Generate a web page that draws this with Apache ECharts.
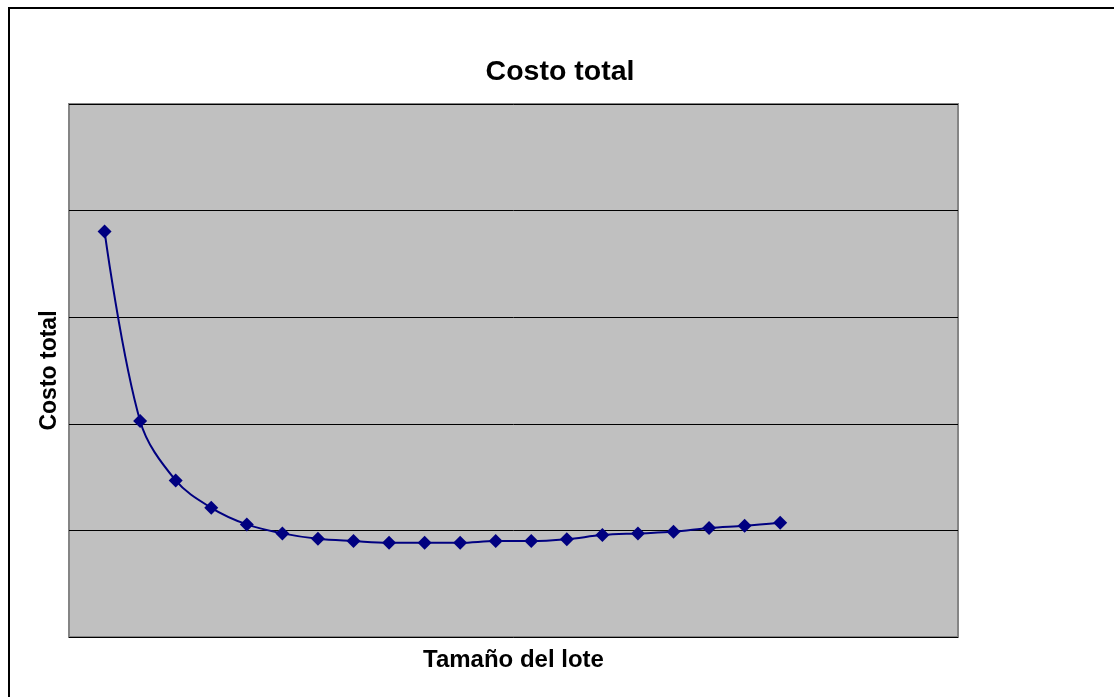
<!DOCTYPE html>
<html>
<head>
<meta charset="utf-8">
<title>Costo total</title>
<script src="https://cdn.jsdelivr.net/npm/echarts@6/dist/echarts.min.js"></script>
<style>
  html, body { margin: 0; padding: 0; background: #ffffff; }
  #chart { width: 1114px; height: 697px; }
</style>
</head>
<body>
<div id="chart"></div>
<script>
// Lot sizes (x) and the total cost for each lot size (y)
const lotSizes = [1, 2, 3, 4, 5, 6, 7, 8, 9, 10, 11, 12, 13, 14, 15, 16, 17, 18, 19, 20];
const totalCost = [3805, 2027, 1469, 1212, 1056, 972, 921, 900, 884, 884,
                   884, 900, 900, 918, 956, 972, 987, 1022, 1043, 1071];

const chartTitle = 'Costo total';
const xAxisName = 'Tamaño del lote';
const yAxisName = 'Costo total';

const points = lotSizes.map((x, i) => [x, totalCost[i]]);

const chart = echarts.init(document.getElementById('chart'), null, { renderer: 'canvas' });

chart.setOption({
  backgroundColor: '#ffffff',
  animation: false,
  title: {
    text: chartTitle,
    left: 555,
    top: 53,
    textAlign: 'center',
    textStyle: {
      fontFamily: 'Liberation Sans, Arial, sans-serif',
      fontWeight: 'bold',
      fontSize: 28.5,
      color: '#000000'
    }
  },
  graphic: [
    {
      // outer frame of the chart
      type: 'rect',
      shape: { x: 9, y: 8, width: 1300, height: 900 },
      style: { fill: 'none', stroke: '#000000', lineWidth: 2 },
      silent: true,
      z: 100
    }
  ],
  grid: {
    left: 69,
    right: 156,
    top: 104,
    bottom: 60,
    show: true,
    backgroundColor: '#c0c0c0',
    borderColor: '#858585',
    borderWidth: 2
  },
  xAxis: {
    type: 'value',
    min: 0,
    max: 25,
    interval: 1,
    name: xAxisName,
    nameLocation: 'middle',
    nameGap: 11,
    nameTextStyle: {
      fontFamily: 'Liberation Sans, Arial, sans-serif',
      fontWeight: 'bold',
      fontSize: 24,
      color: '#000000'
    },
    axisLine: { show: false },
    axisTick: { show: false },
    axisLabel: { show: false },
    splitLine: { show: false }
  },
  yAxis: {
    type: 'value',
    min: 0,
    max: 5000,
    interval: 1000,
    name: yAxisName,
    nameLocation: 'middle',
    nameGap: 8,
    nameTextStyle: {
      fontFamily: 'Liberation Sans, Arial, sans-serif',
      fontWeight: 'bold',
      fontSize: 23,
      color: '#000000'
    },
    axisLine: { show: false },
    axisTick: { show: false },
    axisLabel: { show: false },
    splitLine: { show: true, lineStyle: { color: '#000000', width: 1 } }
  },
  series: [
    {
      type: 'line',
      data: points,
      smooth: 0.35,
      symbol: 'diamond',
      symbolSize: 14,
      showAllSymbol: true,
      lineStyle: { color: '#000080', width: 2 },
      itemStyle: { color: '#000080', borderWidth: 0 },
      z: 3
    }
  ]
});
</script>
</body>
</html>
